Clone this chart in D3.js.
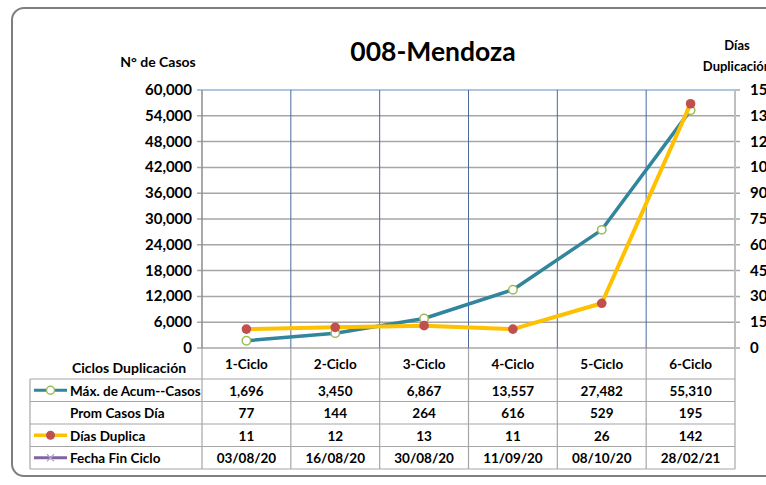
<!DOCTYPE html>
<html>
<head>
<meta charset="utf-8">
<script src="https://cdn.jsdelivr.net/npm/d3@7"></script>
<style>
  body { margin: 0; background: #fff; }
  svg text { font-family: Lato, "Noto Sans", sans-serif; font-weight: bold; fill: #000; }
</style>
</head>
<body>
<script>
// data
var ciclos = ['1-Ciclo', '2-Ciclo', '3-Ciclo', '4-Ciclo', '5-Ciclo', '6-Ciclo'];
var maxAcumCasos = [1696, 3450, 6867, 13557, 27482, 55310];
var promCasosDia = [77, 144, 264, 616, 529, 195];
var diasDuplica = [11, 12, 13, 11, 26, 142];
var fechaFinCiclo = ['03/08/20', '16/08/20', '30/08/20', '11/09/20', '08/10/20', '28/02/21'];
var leftTicks = [0, 6000, 12000, 18000, 24000, 30000, 36000, 42000, 48000, 54000, 60000];
var rightTicks = [0, 15, 30, 45, 60, 75, 90, 105, 120, 135, 150];

var scr = { w: 766, h: 485 };
var plot = { left: 202, right: 735, top: 90, bottom: 348 }; // plot area
var table = { left: 30, top: 379, rowH: 22.5 };

var svg = d3.select('body')
            .append('svg')
            .attr('width', scr.w)
            .attr('height', scr.h);

// outer frame of the chart
svg.append('rect')
   .attr('x', 12).attr('y', 8)
   .attr('width', 790).attr('height', 468)
   .attr('rx', 12).attr('ry', 12)
   .attr('fill', 'none')
   .attr('stroke', '#7f7f7f')
   .attr('stroke-width', 2);

var xScale = d3.scaleBand()
               .domain(ciclos)
               .range([plot.left, plot.right]);

var yLeft = d3.scaleLinear()
              .domain([0, 60000])
              .range([plot.bottom, plot.top]);

var yRight = d3.scaleLinear()
               .domain([0, 150])
               .range([plot.bottom, plot.top]);

// horizontal gridlines
svg.append('g')
   .selectAll('line')
   .data(leftTicks.slice(0, -1))
   .enter()
   .append('line')
   .attr('x1', plot.left - 5).attr('x2', plot.right + 5)
   .attr('y1', function(d){ return yLeft(d); })
   .attr('y2', function(d){ return yLeft(d); })
   .attr('stroke', '#a6a6a6')
   .attr('stroke-width', 1.5);

// top border in light blue
svg.append('line')
   .attr('x1', plot.left - 5).attr('x2', plot.right)
   .attr('y1', plot.top).attr('y2', plot.top)
   .attr('stroke', '#95b3d7').attr('stroke-width', 1.5);
svg.append('line')
   .attr('x1', plot.right).attr('x2', plot.right + 5)
   .attr('y1', plot.top).attr('y2', plot.top)
   .attr('stroke', '#a6a6a6').attr('stroke-width', 1.5);

// vertical category lines (dark blue inside plot)
svg.append('g')
   .selectAll('line')
   .data(ciclos.slice(1))
   .enter()
   .append('line')
   .attr('x1', function(d){ return xScale(d); })
   .attr('x2', function(d){ return xScale(d); })
   .attr('y1', plot.top).attr('y2', plot.bottom)
   .attr('stroke', '#4a6a9b').attr('stroke-width', 1);

// left and right axis lines
svg.append('line')
   .attr('x1', plot.left).attr('x2', plot.left)
   .attr('y1', plot.top).attr('y2', plot.bottom)
   .attr('stroke', '#8c8c8c').attr('stroke-width', 1.5);
svg.append('line')
   .attr('x1', plot.right).attr('x2', plot.right)
   .attr('y1', plot.top).attr('y2', plot.bottom)
   .attr('stroke', '#bfbfbf').attr('stroke-width', 2);

// axis tick labels
svg.append('g')
   .selectAll('text')
   .data(leftTicks)
   .enter()
   .append('text')
   .attr('x', plot.left - 10)
   .attr('y', function(d){ return yLeft(d) + 5; })
   .attr('text-anchor', 'end')
   .style('font-size', '15px')
   .text(function(d){ return d3.format(',')(d); });

svg.append('g')
   .selectAll('text')
   .data(rightTicks)
   .enter()
   .append('text')
   .attr('x', plot.right + 15)
   .attr('y', function(d){ return yRight(d) + 5; })
   .style('font-size', '15px')
   .text(function(d){ return d; });

// titles
svg.append('text')
   .attr('x', 433).attr('y', 61)
   .attr('text-anchor', 'middle')
   .style('font-size', '26.5px')
   .text('008-Mendoza');

svg.append('text')
   .attr('x', 158).attr('y', 67)
   .attr('text-anchor', 'middle')
   .style('font-size', '14px')
   .text('N° de Casos');

svg.append('text')
   .attr('x', 737).attr('y', 50)
   .attr('text-anchor', 'middle')
   .style('font-size', '13px')
   .text('Días');
svg.append('text')
   .attr('x', 737).attr('y', 71)
   .attr('text-anchor', 'middle')
   .style('font-size', '13px')
   .text('Duplicación');

// data table
var rows = [
  { label: 'Máx. de Acum--Casos', values: maxAcumCasos.map(d3.format(',')) },
  { label: 'Prom Casos Día', values: promCasosDia.map(String) },
  { label: 'Días Duplica', values: diasDuplica.map(String) },
  { label: 'Fecha Fin Ciclo', values: fechaFinCiclo }
];
var tableBottom = table.top + rows.length * table.rowH;

// vertical lines through header row and table
var colEdges = [plot.left].concat(ciclos.map(function(d){ return xScale(d) + xScale.bandwidth(); }));
svg.append('g')
   .selectAll('line')
   .data(colEdges)
   .enter()
   .append('line')
   .attr('x1', function(d){ return d; })
   .attr('x2', function(d){ return d; })
   .attr('y1', plot.bottom)
   .attr('y2', tableBottom)
   .attr('stroke', '#a6a6a6').attr('stroke-width', 1.2);

svg.append('line')
   .attr('x1', table.left).attr('x2', table.left)
   .attr('y1', table.top).attr('y2', tableBottom)
   .attr('stroke', '#a6a6a6').attr('stroke-width', 1.2);

svg.append('g')
   .selectAll('line')
   .data(d3.range(rows.length + 1))
   .enter()
   .append('line')
   .attr('x1', table.left).attr('x2', plot.right)
   .attr('y1', function(i){ return table.top + i * table.rowH; })
   .attr('y2', function(i){ return table.top + i * table.rowH; })
   .attr('stroke', '#a6a6a6').attr('stroke-width', 1.2);

// header row
svg.append('text')
   .attr('x', 129).attr('y', 373)
   .attr('text-anchor', 'middle')
   .style('font-size', '14px')
   .text('Ciclos Duplicación');

svg.append('g')
   .selectAll('text')
   .data(ciclos)
   .enter()
   .append('text')
   .attr('x', function(d){ return xScale(d) + xScale.bandwidth() / 2; })
   .attr('y', 369)
   .attr('text-anchor', 'middle')
   .style('font-size', '13.5px')
   .text(function(d){ return d; });

var rowG = svg.selectAll('g.row')
              .data(rows)
              .enter()
              .append('g')
              .classed('row', true)
              .attr('transform', function(d, i){ return 'translate(0,' + (table.top + i * table.rowH) + ')'; });

rowG.append('text')
    .attr('x', 70)
    .attr('y', 16.5)
    .style('font-size', '13.5px')
    .text(function(d){ return d.label; });

rowG.selectAll('text.val')
    .data(function(d){ return d.values; })
    .enter()
    .append('text')
    .classed('val', true)
    .attr('x', function(d, i){ return xScale(ciclos[i]) + xScale.bandwidth() / 2; })
    .attr('y', 16.5)
    .attr('text-anchor', 'middle')
    .style('font-size', '13.5px')
    .text(function(d){ return d; });

// legend keys in the table
var keyY = function(i){ return table.top + i * table.rowH + table.rowH / 2; };
svg.append('line')
   .attr('x1', 34).attr('x2', 67).attr('y1', keyY(0)).attr('y2', keyY(0))
   .attr('stroke', '#31859c').attr('stroke-width', 3);
svg.append('circle')
   .attr('cx', 50.5).attr('cy', keyY(0)).attr('r', 4)
   .attr('fill', '#fff').attr('stroke', '#9bbb59').attr('stroke-width', 1.5);
svg.append('line')
   .attr('x1', 34).attr('x2', 67).attr('y1', keyY(2)).attr('y2', keyY(2))
   .attr('stroke', '#ffc000').attr('stroke-width', 3.5);
svg.append('circle')
   .attr('cx', 50.5).attr('cy', keyY(2)).attr('r', 4.5)
   .attr('fill', '#c0504d');
svg.append('line')
   .attr('x1', 34).attr('x2', 67).attr('y1', keyY(3)).attr('y2', keyY(3))
   .attr('stroke', '#8064a2').attr('stroke-width', 3);
svg.append('path')
   .attr('d', 'M47,' + (keyY(3) - 3.5) + 'l7,7M47,' + (keyY(3) + 3.5) + 'l7,-7')
   .attr('stroke', '#b3a2c7').attr('stroke-width', 1.2);

// series lines
var cx = function(d, i){ return xScale(ciclos[i]) + xScale.bandwidth() / 2; };

var casosLine = d3.line()
                  .x(cx)
                  .y(function(d){ return yLeft(d); });
var diasLine = d3.line()
                 .x(cx)
                 .y(function(d){ return yRight(d); });

svg.append('path')
   .datum(maxAcumCasos)
   .attr('d', casosLine)
   .attr('fill', 'none')
   .attr('stroke', '#31859c')
   .attr('stroke-width', 3.5)
   .attr('stroke-linejoin', 'round');

svg.append('g')
   .selectAll('circle')
   .data(maxAcumCasos)
   .enter()
   .append('circle')
   .attr('cx', cx)
   .attr('cy', function(d){ return yLeft(d); })
   .attr('r', 4.2)
   .attr('fill', '#fff')
   .attr('stroke', '#9bbb59')
   .attr('stroke-width', 1.5);

svg.append('path')
   .datum(diasDuplica)
   .attr('d', diasLine)
   .attr('fill', 'none')
   .attr('stroke', '#ffc000')
   .attr('stroke-width', 4)
   .attr('stroke-linejoin', 'round');

svg.append('g')
   .selectAll('circle')
   .data(diasDuplica)
   .enter()
   .append('circle')
   .attr('cx', cx)
   .attr('cy', function(d){ return yRight(d); })
   .attr('r', 4.8)
   .attr('fill', '#c0504d');
</script>
</body>
</html>
